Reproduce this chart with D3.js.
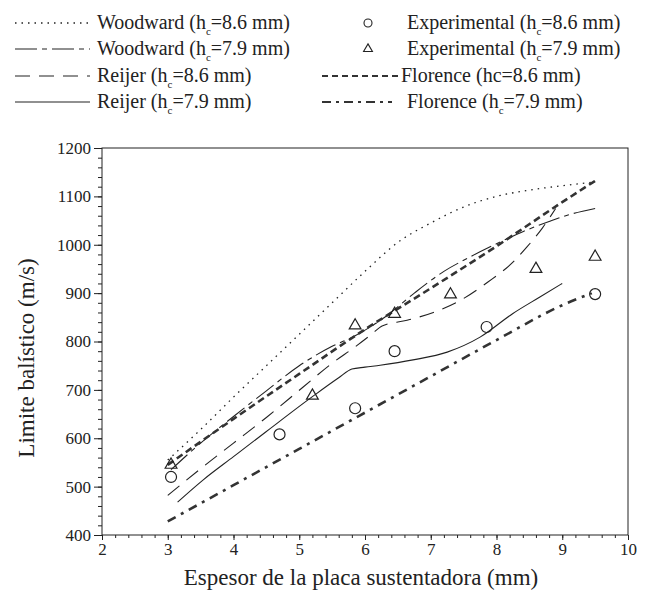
<!DOCTYPE html>
<meta charset="utf-8">
<style>
    body { margin: 0; background: #fff; }
    svg text { font-family: "Liberation Serif", "DejaVu Serif", "Times New Roman", serif; fill: #222; }
    .axis path, .axis line { stroke: #222; }
    .frame { fill: none; stroke: #222; stroke-width: 1; }
</style>
<body>
<script src="https://cdnjs.cloudflare.com/ajax/libs/d3/7.8.5/d3.min.js"></script>
<script>
    // values (espesor mm, limite balistico m/s)
    var woodward86X = [3, 3.5, 4, 4.5, 5, 5.5, 6, 6.5, 7, 7.5, 8, 8.5, 9, 9.5];
    var woodward86Y = [555, 618, 685, 750, 815, 880, 945, 1005, 1045, 1078, 1100, 1113, 1122, 1130];

    var woodward79X = [3.05, 3.5, 4, 4.5, 5, 5.5, 5.85, 6.3, 6.75, 7.2, 7.6, 8, 8.4, 8.8, 9.1, 9.5];
    var woodward79Y = [535, 590, 645, 698, 750, 790, 812, 850, 900, 945, 975, 1002, 1027, 1048, 1062, 1075];

    var reijer86X = [3, 3.5, 4, 4.5, 5.06, 5.47, 5.88, 6.1, 6.26, 6.64, 7.04, 7.45, 7.87, 8.25, 8.46, 8.7, 8.9];
    var reijer86Y = [482, 537, 590, 643, 706, 752, 792, 815, 832, 844, 860, 885, 923, 964, 995, 1035, 1075];

    var reijer79X = [3.15, 3.54, 4, 4.5, 5.2, 5.6, 5.8, 6.0, 6.23, 6.73, 7.25, 7.75, 8.25, 8.66, 9.0];
    var reijer79Y = [468, 514, 562, 614, 686, 725, 743, 747, 751, 762, 778, 809, 858, 892, 920];

    var florence86X = [3, 4, 5, 6, 7, 8, 9, 9.5];
    var florence86Y = [545, 640, 733, 825, 910, 997, 1088, 1132];

    var florence79X = [3, 4, 5, 6, 7, 8, 9, 9.45];
    var florence79Y = [428, 503, 578, 653, 728, 803, 875, 900];

    var exp86X = [3.05, 4.7, 5.85, 6.45, 7.85, 9.5];
    var exp86Y = [520, 608, 662, 780, 830, 898];

    var exp79X = [3.05, 5.2, 5.85, 6.45, 7.3, 8.6, 9.5];
    var exp79Y = [545, 688, 833, 857, 897, 950, 975];

    var xTicks = [2, 3, 4, 5, 6, 7, 8, 9, 10];
    var yTicks = [400, 500, 600, 700, 800, 900, 1000, 1100, 1200];

    var width = 646,
        height = 593;

    var svg = d3.select("body").append("svg")
        .attr("width", width)
        .attr("height", height);

    var x = d3.scaleLinear().domain([2, 10]).range([102, 628]);
    var y = d3.scaleLinear().domain([400, 1200]).range([535, 148]);

    function zip(xs, ys) {
        return xs.map(function(v, i) { return [v, ys[i]]; });
    }

    var line = d3.line()
        .x(function(d) { return x(d[0]); })
        .y(function(d) { return y(d[1]); })
        .curve(d3.curveMonotoneX);

    var styles = {
        w86: { dash: "1.5,5", w: 1.3, c: "#222" },
        w79: { dash: "22,5,5,5", w: 1.1, c: "#222" },
        r86: { dash: "15,9", w: 1.1, c: "#222" },
        r79: { dash: null, w: 1.1, c: "#222" },
        f86: { dash: "7,4", w: 2.6, c: "#333" },
        f79: { dash: "9,6,3,6", w: 2.6, c: "#333" }
    };

    var series = [
        { key: "w86", pts: zip(woodward86X, woodward86Y) },
        { key: "w79", pts: zip(woodward79X, woodward79Y) },
        { key: "r86", pts: zip(reijer86X, reijer86Y) },
        { key: "r79", pts: zip(reijer79X, reijer79Y) },
        { key: "f86", pts: zip(florence86X, florence86Y) },
        { key: "f79", pts: zip(florence79X, florence79Y) }
    ];

    var serif = '"Liberation Serif", "DejaVu Serif", serif';

    // frame
    svg.append("rect").attr("class", "frame")
        .attr("x", x(2)).attr("y", y(1200))
        .attr("width", x(10) - x(2)).attr("height", y(400) - y(1200));

    // x axis, major + minor
    svg.append("g").attr("class", "axis")
        .attr("transform", "translate(0," + y(400) + ")")
        .call(d3.axisBottom(x).tickValues(d3.range(2, 10.01, 0.2)).tickSize(3).tickFormat(""))
        .call(function(g) { g.select(".domain").remove(); });

    var xa = svg.append("g").attr("class", "axis")
        .attr("transform", "translate(0," + y(400) + ")")
        .call(d3.axisBottom(x).tickValues(xTicks).tickSize(5).tickPadding(3).tickFormat(d3.format("d")));
    xa.select(".domain").remove();
    xa.attr("font-family", serif).attr("font-size", 17);
    xa.selectAll("text").style("fill", "#222");

    // y axis, major + minor
    svg.append("g").attr("class", "axis")
        .attr("transform", "translate(" + x(2) + ",0)")
        .call(d3.axisLeft(y).tickValues(d3.range(400, 1201, 20)).tickSize(4).tickFormat(""))
        .call(function(g) { g.select(".domain").remove(); });

    var ya = svg.append("g").attr("class", "axis")
        .attr("transform", "translate(" + x(2) + ",0)")
        .call(d3.axisLeft(y).tickValues(yTicks).tickSize(8).tickPadding(3).tickFormat(d3.format("d")));
    ya.select(".domain").remove();
    ya.attr("font-family", serif).attr("font-size", 17);
    ya.selectAll("text").style("fill", "#222");

    // titles
    svg.append("text")
        .attr("x", 361).attr("y", 585)
        .attr("text-anchor", "middle").attr("font-size", 23)
        .text("Espesor de la placa sustentadora (mm)");

    svg.append("text")
        .attr("transform", "translate(34," + 358 + ") rotate(-90)")
        .attr("text-anchor", "middle").attr("font-size", 23)
        .text("Limite balístico (m/s)");

    // model curves
    svg.selectAll(".curve")
        .data(series)
        .enter().append("path")
        .attr("class", "curve")
        .attr("fill", "none")
        .attr("stroke", function(d) { return styles[d.key].c; })
        .attr("stroke-width", function(d) { return styles[d.key].w; })
        .attr("stroke-dasharray", function(d) { return styles[d.key].dash; })
        .attr("d", function(d) { return line(d.pts); });

    // experimental points
    svg.selectAll(".circ")
        .data(zip(exp86X, exp86Y))
        .enter().append("circle")
        .attr("class", "circ")
        .attr("cx", function(d) { return x(d[0]); })
        .attr("cy", function(d) { return y(d[1]); })
        .attr("r", 5.5)
        .attr("fill", "none").attr("stroke", "#222").attr("stroke-width", 1.2);

    var tri = d3.symbol().type(d3.symbolTriangle).size(60);
    svg.selectAll(".tri")
        .data(zip(exp79X, exp79Y))
        .enter().append("path")
        .attr("class", "tri")
        .attr("transform", function(d) { return "translate(" + x(d[0]) + "," + y(d[1]) + ")"; })
        .attr("d", tri)
        .attr("fill", "none").attr("stroke", "#222").attr("stroke-width", 1.2);

    // legend
    var legendLeft = [
        { key: "w86", name: "Woodward (h", sub: "c", rest: "=8.6 mm)" },
        { key: "w79", name: "Woodward (h", sub: "c", rest: "=7.9 mm)" },
        { key: "r86", name: "Reijer (h", sub: "c", rest: "=8.6 mm)" },
        { key: "r79", name: "Reijer (h", sub: "c", rest: "=7.9 mm)" }
    ];
    var legendRight = [
        { key: "circle", name: "Experimental (h", sub: "c", rest: "=8.6 mm)" },
        { key: "triangle", name: "Experimental (h", sub: "c", rest: "=7.9 mm)" },
        { key: "f86", name: "Florence (hc=8.6 mm)", sub: "", rest: "" },
        { key: "f79", name: "Florence (h", sub: "c", rest: "=7.9 mm)" }
    ];

    function legendText(g, d, tx, ty) {
        var t = g.append("text").attr("x", tx).attr("y", ty).attr("font-size", 20);
        t.append("tspan").text(d.name);
        if (d.sub) {
            t.append("tspan").attr("font-size", 11).attr("dy", 6).text(d.sub);
            t.append("tspan").attr("dy", -6).text(d.rest);
        }
    }

    var rowY = [23, 49, 76, 102];

    legendLeft.forEach(function(d, i) {
        var g = svg.append("g");
        var s = styles[d.key];
        g.append("line")
            .attr("x1", 15).attr("x2", 90).attr("y1", rowY[i]).attr("y2", rowY[i])
            .attr("stroke", s.c).attr("stroke-width", s.w).attr("stroke-dasharray", s.dash);
        legendText(g, d, 97, rowY[i] + 6);
    });

    legendRight.forEach(function(d, i) {
        var g = svg.append("g");
        var tx = 407;
        if (d.key === "circle") {
            g.append("circle").attr("cx", 368).attr("cy", rowY[i]).attr("r", 4)
                .attr("fill", "none").attr("stroke", "#222").attr("stroke-width", 1.1);
        } else if (d.key === "triangle") {
            g.append("path").attr("transform", "translate(368," + rowY[i] + ")")
                .attr("d", d3.symbol().type(d3.symbolTriangle).size(34))
                .attr("fill", "none").attr("stroke", "#222").attr("stroke-width", 1.1);
        } else {
            var s = styles[d.key];
            var x2 = d.key === "f86" ? 398 : 392;
            g.append("line")
                .attr("x1", 322).attr("x2", x2).attr("y1", rowY[i]).attr("y2", rowY[i])
                .attr("stroke", s.c).attr("stroke-width", s.w - 0.4).attr("stroke-dasharray", d.key === "f86" ? "6,4" : "9,5,3,5");
            if (d.key === "f86") tx = 401;
        }
        legendText(g, d, tx, rowY[i] + 6);
    });
</script>
</body>
